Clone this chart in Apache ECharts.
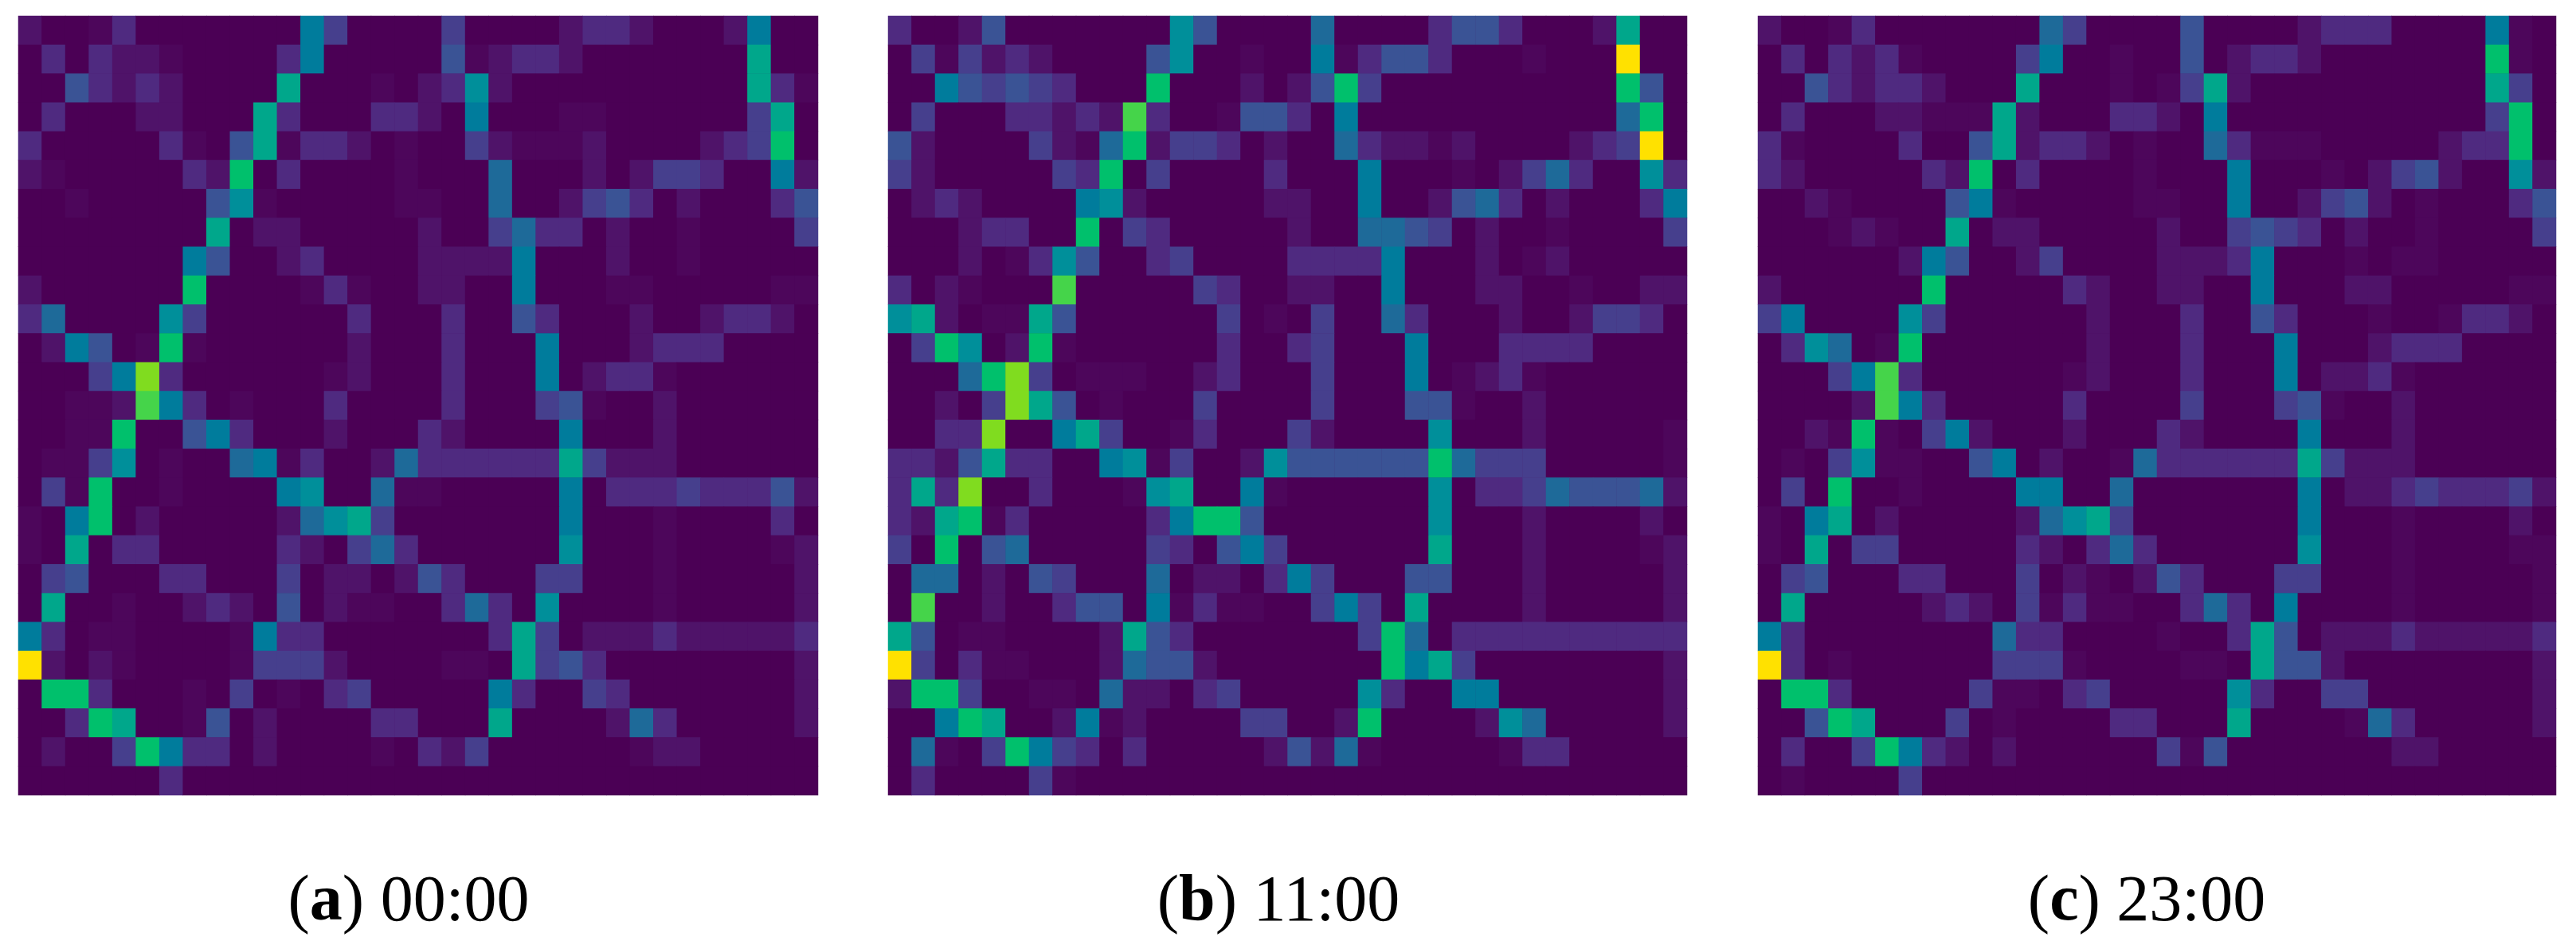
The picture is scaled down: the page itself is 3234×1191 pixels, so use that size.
<!DOCTYPE html>
<html><head><meta charset="utf-8">
<style>html,body{margin:0;padding:0;background:#fff}#c{width:3234px;height:1191px}</style>
<script src="https://cdn.jsdelivr.net/npm/echarts@6/dist/echarts.min.js"></script>
</head><body><div id="c"></div>
<script>
// Cell levels: one character per cell, 0..9,a,b,c,d (0 = lowest, d = highest)
const panelA = [
"20013 00000 00740 00040 00023 32000 2700",
"03032 21000 03700 00051 23320 00000 0900",
"00532 32000 09000 10238 20000 00000 0931",
"03000 22000 93000 33207 00011 00000 0490",
"30000 03105 91332 01004 21112 00002 34a0",
"21000 0032a 03000 01000 60002 02443 0072",
"00100 00058 10000 01100 60024 53020 0035",
"00000 00090 22000 00200 46330 20010 0004",
"00000 00750 02300 00222 27000 20010 0000",
"20000 00a00 00131 00220 07000 11000 0011",
"36000 08400 00003 00030 05300 02002 3320",
"02750 1a100 00002 00030 00700 02333 0000",
"00047 c3000 00012 00030 00702 33100 0000",
"00112 b7301 00030 00030 00451 00200 0000",
"0011a 00573 00020 00320 00070 00200 0000",
"01148 01006 71300 26333 33394 22200 0000",
"041a0 01000 07800 61100 00070 33343 3352",
"107a0 20000 02689 40000 00070 00100 0030",
"10903 30000 03204 63000 00080 00100 0012",
"04500 03300 04022 02530 00440 00100 0002",
"09001 00232 05021 10036 30800 00100 0002",
"73011 00001 73300 00000 39402 22322 2223",
"d2021 00001 44420 00011 09453 00000 0002",
"0aa30 00104 01034 00000 73004 30000 0002",
"003a9 00150 20000 33000 90000 26300 0002",
"02004 a7330 20000 10324 00000 01220 0000",
"00000 03000 00000 00000 00000 00000 0000"
];
const panelB = [
"30025 00000 00850 00060 00035 53000 2900",
"04142 32000 05800 10071 35530 00100 0d00",
"00754 54300 0a000 2025a 40000 00000 0a50",
"04000 33232 b3001 55307 00000 00000 06a0",
"52000 04216 a2443 02006 32212 00002 34d0",
"42000 0043a 04000 03000 70001 02463 0083",
"02320 00078 20000 02200 70025 63020 0037",
"00023 300a0 43000 00200 66540 20010 0004",
"00020 13850 03400 00333 37000 20120 0000",
"30210 00b00 00043 00220 07000 22001 0022",
"89201 19500 00004 01040 06300 02002 4430",
"04a80 2a100 00003 00340 00700 03333 0000",
"0006a c4011 10023 00040 00701 23100 0000",
"00204 c9501 00040 00040 00551 00200 0000",
"0033c 00794 00130 00420 00080 00200 0001",
"33259 33007 81400 28555 555a6 44400 0001",
"393c0 03000 18900 71000 00080 33465 5562",
"329a1 30000 037aa 50000 00080 00200 0020",
"40a05 60000 04305 74000 00090 00200 0012",
"06602 05400 06022 03740 00550 00200 0002",
"0b002 00355 07131 10047 40900 00200 0002",
"95011 00002 95300 00000 4a603 33333 3333",
"d4031 10002 65520 00000 0a794 00000 0002",
"2aa40 01106 22034 00000 83007 70000 0002",
"007a9 00271 20000 44002 a0000 28600 0002",
"06104 a7430 30000 02526 10000 01330 0000",
"03000 04100 00000 00000 00000 00000 0000"
];
const panelC = [
"20013 00000 00640 00050 00023 33000 0710",
"03032 31000 04700 10050 23320 00000 0a10",
"00532 33200 09000 10149 20000 00000 0940",
"03000 22111 92000 33207 00000 00000 04a0",
"31000 03005 92332 01006 31110 00002 33a0",
"32000 0032a 03000 01000 70001 02452 0082",
"00210 00057 10000 01100 70024 52010 0035",
"00012 10090 22000 00200 45430 20010 0004",
"00000 02750 02400 00222 37000 10110 0000",
"20000 00a00 00032 00220 07000 22000 0011",
"47000 08400 00002 00030 05300 01001 3320",
"03860 1a000 00002 00030 00700 02333 0000",
"00047 b3000 00012 00030 00702 23100 0000",
"00002 b7300 00030 00040 00451 00200 0000",
"0021a 10472 00020 00320 00070 00200 0000",
"01048 11005 70200 16333 33394 22200 0000",
"040a0 01000 07700 60000 00070 22343 3342",
"10790 20000 02689 40000 00070 00100 0020",
"10904 40000 03203 63000 00080 00100 0011",
"04500 03300 04021 02530 00440 00100 0001",
"09000 00232 04131 10036 30700 00100 0001",
"73000 00000 63300 00100 39502 22322 2223",
"d3010 00000 44410 00011 09552 00000 0002",
"0aa30 00004 11034 00000 83004 40000 0002",
"005a9 00040 10000 33000 90000 16300 0002",
"03004 a7320 20000 00415 00000 00220 0000",
"01000 04000 00000 00000 00000 00000 0000"
];
const panelLetters = ["a", "b", "c"];
const panelTimes = ["00:00", "11:00", "23:00"];

const colorStops = ["#4B0055","#4D065B","#4F1369","#4F2A80","#463F8D","#3A5395","#1E6A99",
                    "#007C9C","#008F9A","#00A78B","#00C06C","#45D44A","#80DC1F","#FFE100"];
const panels = [panelA, panelB, panelC];
const gridLefts = [23, 1115, 2207];
const gridWidths = [1004, 1003, 1002];
const captionCenters = [508, 1600, 2690];

function cells(rows) {
  const out = [];
  rows.forEach((row, y) => {
    row.replace(/\s/g, "").split("").forEach((ch, x) => out.push([x, y, parseInt(ch, 16)]));
  });
  return out;
}
const range = n => Array.from({length: n}, (_, i) => i);
const nCols = panelA[0].replace(/\s/g, "").length;
const nRows = panelA.length;

const chart = echarts.init(document.getElementById("c"), null, {renderer: "canvas"});
chart.setOption({
  animation: false,
  backgroundColor: "#fff",
  grid: panels.map((_, i) => ({
    left: gridLefts[i], top: 20, width: gridWidths[i], height: 978,
    show: true, backgroundColor: "#4B0055", borderWidth: 0
  })),
  xAxis: panels.map((_, i) => ({type: "category", gridIndex: i, data: range(nCols), show: false})),
  yAxis: panels.map((_, i) => ({type: "category", gridIndex: i, data: range(nRows), inverse: true, show: false})),
  visualMap: {show: false, min: 0, max: 13, dimension: 2, seriesIndex: [0, 1, 2], inRange: {color: colorStops}},
  title: panels.map((_, i) => ({
    text: "{p|(}{b|" + panelLetters[i] + "}{p|) " + panelTimes[i] + "}",
    left: captionCenters[i], top: 1087, textAlign: "center",
    textStyle: {rich: {
      p: {fontFamily: "Liberation Serif", fontSize: 82, color: "#000", fontWeight: "normal"},
      b: {fontFamily: "Liberation Serif", fontSize: 82, color: "#000", fontWeight: "bold"}
    }}
  })),
  series: panels.map((rows, i) => ({
    type: "heatmap", xAxisIndex: i, yAxisIndex: i, data: cells(rows),
    progressive: 0, itemStyle: {borderWidth: 0}, emphasis: {disabled: true}
  }))
});
</script></body></html>
